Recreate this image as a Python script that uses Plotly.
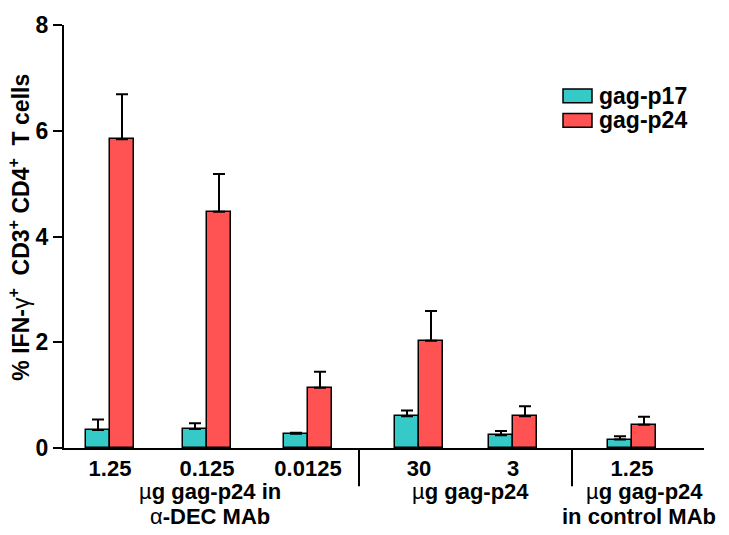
import plotly.graph_objects as go

# ---- data ----
dose_labels = ["1.25", "0.125", "0.0125", "30", "3", "1.25"]
p17_values = [0.34, 0.36, 0.27, 0.60, 0.24, 0.16]
p17_errors = [0.20, 0.11, 0.02, 0.11, 0.08, 0.06]
p24_values = [5.84, 4.47, 1.14, 2.03, 0.60, 0.44]
p24_errors = [0.85, 0.71, 0.30, 0.56, 0.19, 0.15]
series_names = ["gag-p17", "gag-p24"]
group_titles = [
    ["<span style='font-weight:normal'>µ</span>g gag-p24 in",
     "<span style='font-weight:normal'>α</span>-DEC MAb"],
    ["<span style='font-weight:normal'>µ</span>g gag-p24"],
    ["<span style='font-weight:normal'>µ</span>g gag-p24", "in control MAb"],
]
y_ticks = [0, 2, 4, 6, 8]

# ---- layout helpers (positions, not data) ----
group_pos = [46, 143, 244, 355, 449, 568]
separator_pos = [295, 508]
group_title_x = [[146, 146], [406, 406], [580, 575]]
bar_w = 24
CYAN = "#35C9C8"
RED = "#FF5353"
FONT = "Liberation Sans, Arial, sans-serif"

fig = go.Figure()
fig.add_trace(go.Bar(
    x=[p - bar_w / 2 for p in group_pos], y=p17_values, width=bar_w,
    name=series_names[0], marker=dict(color=CYAN, line=dict(color="black", width=1.5)),
    error_y=dict(type="data", symmetric=False, array=p17_errors,
                 arrayminus=[0] * len(p17_errors), color="black", thickness=2, width=6),
))
fig.add_trace(go.Bar(
    x=[p + bar_w / 2 for p in group_pos], y=p24_values, width=bar_w,
    name=series_names[1], marker=dict(color=RED, line=dict(color="black", width=1.5)),
    error_y=dict(type="data", symmetric=False, array=p24_errors,
                 arrayminus=[0] * len(p24_errors), color="black", thickness=2, width=6),
))

L, T, PW, PH = 64, 18, 640, 430
W, H = 729, 535

def px(xp):
    return (xp - L) / PW

def py(yp):
    return (T + PH - yp) / PH

shapes = []
for s in separator_pos:
    shapes.append(dict(type="line", xref="x", yref="paper", x0=s, x1=s,
                       y0=0, y1=py(487), line=dict(color="black", width=2)))

annotations = []
line_y = [492, 518]
for gxs, lines in zip(group_title_x, group_titles):
    for i, t in enumerate(lines):
        annotations.append(dict(x=gxs[i], xref="x", y=py(line_y[i]), yref="paper",
                                text="<b>" + t + "</b>", showarrow=False,
                                xanchor="center", yanchor="middle",
                                font=dict(family=FONT, size=22, color="black")))

# legend drawn manually
leg_colors = [CYAN, RED]
leg_y = [90, 115]
for name, c, yc in zip(series_names, leg_colors, leg_y):
    shapes.append(dict(type="rect", xref="paper", yref="paper",
                       x0=px(563), x1=px(592), y0=py(yc - 7), y1=py(yc + 7),
                       fillcolor=c, line=dict(color="black", width=1.5)))
    annotations.append(dict(x=px(597), xref="paper", y=py(yc), yref="paper",
                            text="<b>" + name + "</b>", showarrow=False,
                            xanchor="left", yanchor="middle",
                            font=dict(family=FONT, size=23, color="black")))

# y-axis title
annotations.append(dict(
    x=px(19), xref="paper", y=py(224), yref="paper", textangle=-90,
    text="<b>% IFN-<span style='font-weight:normal'>γ</span><sup>+</sup>  CD3<sup>+</sup> CD4<sup>+</sup>  T cells</b>",
    showarrow=False, xanchor="center", yanchor="middle",
    font=dict(family=FONT, size=23, color="black")))

fig.update_layout(
    width=W, height=H,
    margin=dict(l=L, r=W - L - PW, t=T, b=H - T - PH),
    paper_bgcolor="white", plot_bgcolor="white",
    showlegend=False, bargap=0,
    shapes=shapes, annotations=annotations,
    font=dict(family=FONT, color="black"),
)
fig.update_xaxes(range=[0, PW], tickmode="array", tickvals=group_pos,
                 ticktext=["<b>" + t + "</b>" for t in dose_labels],
                 ticks="", showline=True, linecolor="black", linewidth=2,
                 showgrid=False, zeroline=False,
                 tickfont=dict(family=FONT, size=22, color="black"))
fig.update_yaxes(range=[0, 8], tickmode="array", tickvals=y_ticks,
                 ticktext=["<b>%d</b>" % v for v in y_ticks],
                 ticks="outside", ticklen=9, tickwidth=2, tickcolor="black",
                 showline=True, linecolor="black", linewidth=2,
                 showgrid=False, zeroline=False,
                 tickfont=dict(family=FONT, size=23, color="black"))

fig.write_html("out.html", config={"displayModeBar": False},
               post_script="document.body.style.margin='0px';")
